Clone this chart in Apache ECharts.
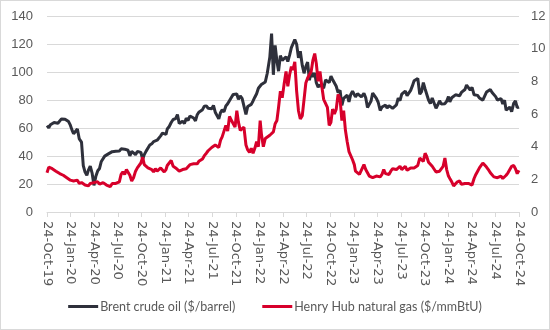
<!DOCTYPE html>
<html>
<head>
<meta charset="utf-8">
<script src="https://cdn.jsdelivr.net/npm/echarts@6/dist/echarts.min.js"></script>
<style>
  html, body { margin: 0; padding: 0; background: #fff; }
  #wrap { position: relative; width: 550px; height: 330px; }
  #chart { position: absolute; left: 0; top: 0; width: 550px; height: 330px; }
  #frame { position: absolute; left: 0; top: 0; width: 550px; height: 330px;
           box-sizing: border-box; border: 1px solid #d9d9d9; pointer-events: none; }
</style>
</head>
<body>
<div id="wrap"><div id="chart"></div><div id="frame"></div></div>
<script>
// Weekly observations (Thursdays) starting 24-Oct-2019
const startDate = '2019-10-24';

// Brent crude oil, $/barrel
const brent = [
  61.7, 60.2, 62.3, 62.3, 63.9, 63.0, 63.4, 64.2, 66.5, 67.9,
  66.3, 65.4, 64.6, 62.0, 58.3,
  55.9, 56.3, 59.3, 52.2,
  49.9, 33.2, 28.5, 26.3,
  29.9, 32.8, 27.8, 19.0, 25.3,
  29.5, 31.1, 36.1, 35.3,
  39.9, 38.6, 41.5, 41.1,
  43.1, 42.4, 43.4, 43.3, 43.5,
  45.1, 44.9, 44.9, 45.1,
  44.1, 40.1, 43.3, 41.9,
  40.9, 43.3, 43.2, 42.5, 37.7,
  41.0, 43.5, 44.2, 47.8,
  48.7, 50.3, 51.5, 51.3, 51.8,
  54.4, 56.4, 56.1, 55.5,
  59.3, 61.1, 63.9, 66.1,
  66.7, 69.6, 63.3, 62.0,
  64.9, 63.2, 66.9, 65.4, 68.6,
  68.1, 67.1, 65.1, 69.5,
  71.3, 72.5, 73.1, 75.6,
  75.8, 74.1, 73.5, 73.8, 76.1,
  71.3, 71.3, 66.5, 71.1,
  73.0, 71.5, 75.7, 77.3, 78.3,
  81.9, 84.0, 84.6, 84.3,
  80.5, 82.9, 81.2, 82.2,
  69.7, 75.4, 75.0, 76.9, 79.3,
  82.0, 84.5, 88.4, 89.3,
  91.1, 91.4, 92.9, 99.1,
  110.5, 127.5, 98.0, 119.0, 107.9,
  100.6, 111.7, 108.3, 107.6,
  110.9, 107.5, 112.0, 117.4,
  117.6, 123.1, 119.8, 110.1, 114.8,
  104.7, 99.1, 103.9, 107.1,
  94.1, 99.6, 96.6, 99.3,
  92.4, 89.2, 90.8, 90.5, 88.5,
  94.4, 94.6, 92.4, 97.0,
  94.7, 93.7, 89.8, 85.3,
  86.9, 76.2, 81.2, 81.0, 83.5,
  78.7, 84.0, 86.2, 87.5,
  82.2, 84.5, 85.1, 82.2,
  84.8, 81.6, 74.7, 75.9, 79.3,
  85.0, 86.1, 81.1, 78.4,
  72.5, 75.0, 75.9, 76.3,
  74.3, 76.0, 75.7, 74.1, 74.3,
  76.5, 81.4, 79.6, 84.2,
  85.1, 86.4, 83.1, 83.4, 86.9,
  89.9, 93.7, 93.3, 95.4,
  84.1, 86.0, 92.4, 87.9,
  86.9, 80.0, 77.4, 81.4, 80.9,
  74.1, 76.6, 79.4, 77.2,
  77.6, 77.4, 79.1, 82.4,
  78.7, 81.6, 82.9, 83.7, 83.6,
  83.0, 85.4, 85.8, 87.5,
  90.7, 89.7, 87.1, 89.0,
  83.7, 83.9, 83.3, 81.4, 81.9,
  79.9, 82.8, 85.7, 86.4,
  87.4, 85.4, 85.1, 82.4,
  80.0, 79.2, 81.0, 77.2, 79.9,
  72.7, 72.0, 74.9, 71.6,
  77.6, 79.4, 74.5, 75.0
];

// Henry Hub natural gas, $/mmBtU
const henryHub = [
  2.4, 2.75, 2.8, 2.65, 2.6, 2.5, 2.4, 2.35, 2.3, 2.25,
  2.15, 2.1, 2.05, 1.95, 1.9,
  1.9, 1.85, 1.95, 1.75,
  1.8, 1.9, 1.65, 1.7,
  1.6, 1.75, 1.7, 1.8, 1.85,
  1.85, 1.7, 1.75, 1.8,
  1.75, 1.65, 1.6, 1.55,
  1.75, 1.8, 1.75, 1.8, 1.85,
  2.3, 2.45, 2.3, 2.6,
  2.5, 2.25, 1.9, 2.1,
  2.5, 2.7, 2.75, 3.0, 3.35,
  2.9, 3.0, 2.7, 2.8,
  2.6, 2.45, 2.65, 2.5, 2.55,
  2.7, 2.75, 2.45, 2.6,
  2.85, 2.9, 3.15, 2.8,
  2.7, 2.6, 2.5, 2.5,
  2.6, 2.55, 2.65, 2.75, 2.9,
  2.95, 2.95, 2.9, 2.95,
  3.1, 3.2, 3.25, 3.45,
  3.6, 3.75, 3.65, 3.95, 3.95,
  4.1, 4.15, 3.95, 4.4,
  4.6, 4.95, 5.3, 4.95, 5.85,
  5.6, 5.5, 5.2, 6.2,
  5.5, 5.0, 4.9, 5.2,
  4.1, 3.8, 3.65, 3.9, 3.6,
  3.9, 4.3, 4.0, 5.6,
  4.8, 4.0, 4.5, 4.6,
  4.7, 4.6, 4.9, 5.4, 5.6,
  6.4, 7.4, 7.0, 7.8,
  8.6, 7.7, 8.4, 8.9,
  8.7, 9.2, 7.4, 6.2, 5.7,
  5.9, 6.9, 7.9, 8.2,
  8.1, 8.6, 9.3, 9.7,
  9.1, 8.0, 8.6, 7.7, 6.9,
  6.9, 6.4, 5.3, 5.5,
  6.3, 6.0, 6.3, 7.2,
  6.9, 5.6, 6.2, 5.0, 4.3,
  3.7, 3.6, 3.2, 2.9,
  2.5, 2.4, 2.3, 2.4,
  2.9, 2.6, 2.4, 2.2, 2.1,
  2.1, 2.05, 2.2, 2.3,
  2.15, 2.3, 2.6, 2.35,
  2.3, 2.3, 2.5, 2.65, 2.7,
  2.6, 2.5, 2.8, 2.6,
  2.55, 2.8, 2.55, 2.55, 2.7,
  2.6, 2.7, 2.7, 2.85,
  3.3, 3.4, 3.1, 3.6,
  3.4, 3.05, 3.0, 2.8, 2.75,
  2.45, 2.35, 2.5, 2.55,
  2.8, 3.3, 2.6, 2.2,
  2.05, 1.85, 1.6, 1.7, 1.85,
  1.9, 1.7, 1.65, 1.75,
  1.85, 1.75, 1.65, 1.65,
  2.05, 2.3, 2.5, 2.7, 2.65,
  3.0, 3.05, 2.75, 2.6,
  2.4, 2.3, 2.15, 2.05,
  2.1, 2.1, 2.2, 2.05, 2.15,
  2.25, 2.4, 2.6, 2.8,
  2.85, 2.65, 2.35, 2.55
];

// Date-axis labels, one every three months
const tickLabels = [
  '24-Oct-19', '24-Jan-20', '24-Apr-20', '24-Jul-20', '24-Oct-20',
  '24-Jan-21', '24-Apr-21', '24-Jul-21', '24-Oct-21', '24-Jan-22',
  '24-Apr-22', '24-Jul-22', '24-Oct-22', '24-Jan-23', '24-Apr-23',
  '24-Jul-23', '24-Oct-23', '24-Jan-24', '24-Apr-24', '24-Jul-24',
  '24-Oct-24'
];

const seriesNames = ['Brent crude oil ($/barrel)', 'Henry Hub natural gas ($/mmBtU)'];

// Position of a date in months after 24-Oct-2019 (so each label step is 3)
function monthPos(d) {
  const y = d.getUTCFullYear(), m = d.getUTCMonth(), day = d.getUTCDate();
  const dim = new Date(Date.UTC(y, m + 1, 0)).getUTCDate();
  return (y - 2019) * 12 + (m - 9) + (day - 24) / dim;
}
const t0 = Date.parse(startDate + 'T00:00:00Z');
function toPoints(vals) {
  return vals.map((v, i) => [monthPos(new Date(t0 + i * 7 * 86400000)), v]);
}

const grey = '#595959';
const gridGrey = '#d9d9d9';
const chart = echarts.init(document.getElementById('chart'), null, { renderer: 'canvas' });
chart.setOption({
  animation: false,
  backgroundColor: '#fff',
  grid: { left: 47, right: 31, top: 16, bottom: 118, containLabel: false },
  legend: {
    bottom: 12,
    left: 'center',
    icon: 'rect',
    itemWidth: 30,
    itemHeight: 3,
    itemGap: 27,
    textStyle: { color: grey, fontSize: 12.5, fontFamily: 'Lato', padding: [0, 0, 0, -3] },
    data: seriesNames
  },
  xAxis: {
    type: 'value',
    min: 0, max: 60, interval: 3,
    axisLine: { show: true, lineStyle: { color: gridGrey, width: 1 } },
    axisTick: { show: true, length: 5, lineStyle: { color: gridGrey } },
    splitLine: { show: false },
    axisLabel: {
      rotate: -90,
      margin: 9,
      color: grey,
      fontSize: 13,
      fontFamily: 'DejaVu Sans',
      formatter: v => tickLabels[Math.round(v / 3)]
    }
  },
  yAxis: [
    {
      type: 'value', min: 0, max: 140, interval: 20,
      axisLine: { show: false }, axisTick: { show: false },
      splitLine: { lineStyle: { color: gridGrey, width: 1 } },
      axisLabel: { color: grey, fontSize: 13, fontFamily: 'Liberation Sans', margin: 14 }
    },
    {
      type: 'value', min: 0, max: 12, interval: 2,
      axisLine: { show: false }, axisTick: { show: false },
      splitLine: { show: false },
      axisLabel: { color: grey, fontSize: 13, fontFamily: 'Liberation Sans', margin: 12 }
    }
  ],
  series: [
    {
      name: seriesNames[0], type: 'line', yAxisIndex: 0,
      data: toPoints(brent), showSymbol: false, symbol: 'none',
      lineStyle: { color: '#2e303b', width: 3 }, itemStyle: { color: '#2e303b' },
      z: 2
    },
    {
      name: seriesNames[1], type: 'line', yAxisIndex: 1,
      data: toPoints(henryHub), showSymbol: false, symbol: 'none',
      lineStyle: { color: '#d7002b', width: 3 }, itemStyle: { color: '#d7002b' },
      z: 3
    }
  ]
});
</script>
</body>
</html>
